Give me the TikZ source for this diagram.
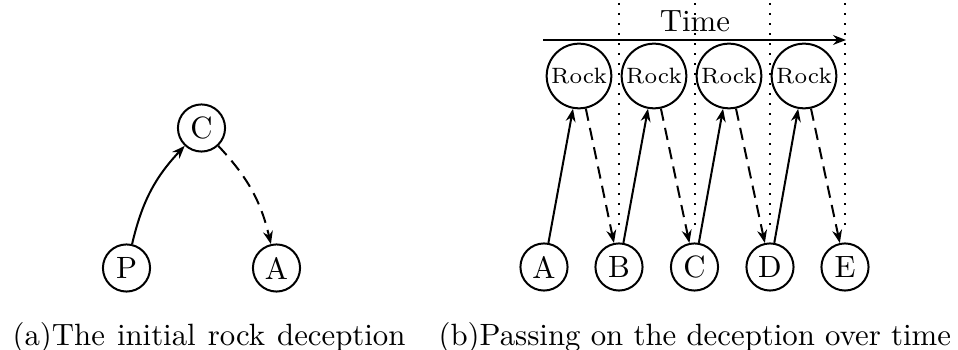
\documentclass[tikz,border=0pt]{standalone}
\usetikzlibrary{arrows.meta}
\tikzset{
  lett/.style={circle,draw,line width=0.65pt,inner sep=0pt,minimum size=15.3pt,font=\normalsize},
  rock/.style={circle,draw,line width=0.65pt,inner sep=0pt,minimum size=21pt,font=\fontsize{7.2}{9}\selectfont},
  solidarr/.style={line width=0.65pt,-{Stealth[length=4.2pt,width=3.2pt]}},
  dasharr/.style={line width=0.65pt,dash pattern=on 4pt off 2.4pt,-{Stealth[length=4.2pt,width=3.2pt]}},
  guide/.style={line width=0.65pt,dash pattern=on 0.65pt off 2.6pt},
  captext/.style={anchor=base west,inner sep=0pt,font=\normalsize}
}
\begin{document}
\begin{tikzpicture}[x=0.3247pt,y=-0.3247pt]
\useasboundingbox (0,0) rectangle (958,350);
% (a)
\node[lett] (lC) at (201.5,128) {C};
\node[lett] (lP) at (126.5,268) {P};
\node[lett] (lA) at (276.5,268) {A};
\draw[solidarr] (lP) to[bend left=15] (lC);
\draw[dasharr] (lC) to[bend left=15] (lA);
% (b)
\foreach \i/\x in {1/579,2/654,3/729,4/804}{
  \node[rock] (r\i) at (\x,76) {Rock};
}
\foreach \n/\x in {A/544,B/619,C/694.5,D/770,E/845}{
  \node[lett] (\n) at (\x,267) {\n};
}
\foreach \n/\x in {B/619,C/694.5,D/770,E/845}{
  \coordinate (gt\n) at (\x,3);
  \coordinate (gb\n) at (\x,228);
  \draw[guide] (gt\n) -- (gb\n);
}
\coordinate (tL) at (543,40);
\coordinate (tR) at (846,40);
\draw[solidarr] (tL) -- (tR);
\node[anchor=base,inner sep=0pt] (time) at (695,31.7) {Time};
\draw[solidarr] (A) -- (r1);
\draw[solidarr] (B) -- (r2);
\draw[solidarr] (C) -- (r3);
\draw[solidarr] (D) -- (r4);
\draw[dasharr] (r1) -- (B);
\draw[dasharr] (r2) -- (C);
\draw[dasharr] (r3) -- (D);
\draw[dasharr] (r4) -- (E);
% captions
\node[captext] (capa) at (12,346) {\spaceskip=3.9pt (a)The initial rock deception};
\node[captext] (capb) at (438,346) {(b)Passing on the deception over time};
\end{tikzpicture}
\end{document}
